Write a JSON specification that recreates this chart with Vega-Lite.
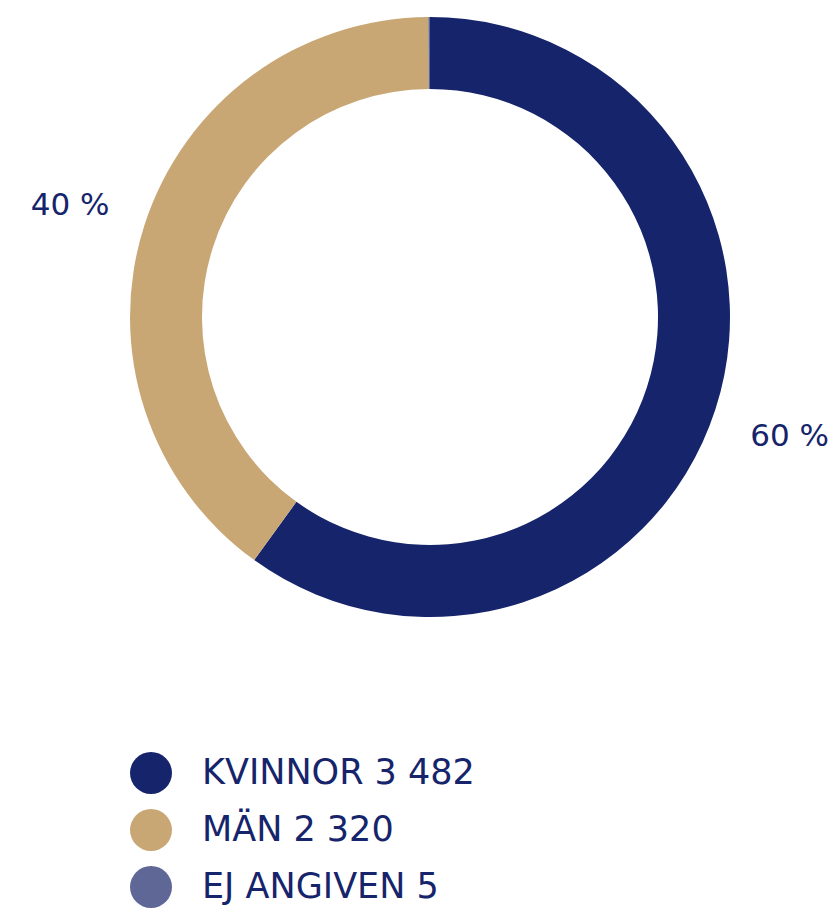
{
  "$schema": "https://vega.github.io/schema/vega-lite/v6.json",
  "width": 860,
  "height": 634,
  "padding": {"top": 0, "left": 0, "right": 0, "bottom": 277},
  "autosize": {"type": "none"},
  "background": "white",
  "data": {
    "values": [
      {"kategori": "KVINNOR 3 482", "antal": 3482, "ordning": 1, "etikett": "60 %"},
      {"kategori": "MÄN 2 320", "antal": 2320, "ordning": 2, "etikett": "40 %"},
      {"kategori": "EJ ANGIVEN 5", "antal": 5, "ordning": 3, "etikett": ""}
    ]
  },
  "encoding": {
    "theta": {"field": "antal", "type": "quantitative", "stack": true},
    "order": {"field": "ordning", "type": "quantitative"}
  },
  "layer": [
    {
      "mark": {"type": "arc", "outerRadius": 300, "innerRadius": 228},
      "encoding": {
        "color": {
          "field": "kategori",
          "type": "nominal",
          "scale": {
            "domain": ["KVINNOR 3 482", "MÄN 2 320", "EJ ANGIVEN 5"],
            "range": ["#16246B", "#C9A775", "#5E6796"]
          },
          "legend": {
            "orient": "none",
            "legendX": 130,
            "legendY": 752,
            "direction": "vertical",
            "title": null,
            "symbolType": "circle",
            "symbolSize": 1764,
            "symbolStrokeWidth": 0,
            "symbolOpacity": 1,
            "labelFont": "DejaVu Sans",
            "labelFontSize": 35,
            "labelColor": "#16246B",
            "labelOffset": 30,
            "rowPadding": 15,
            "labelLimit": 600
          }
        }
      }
    },
    {
      "mark": {"type": "text", "radius": 378, "dy": 4, "font": "DejaVu Sans", "fontSize": 31, "color": "#16246B"},
      "encoding": {
        "text": {"field": "etikett", "type": "nominal"}
      }
    }
  ]
}
